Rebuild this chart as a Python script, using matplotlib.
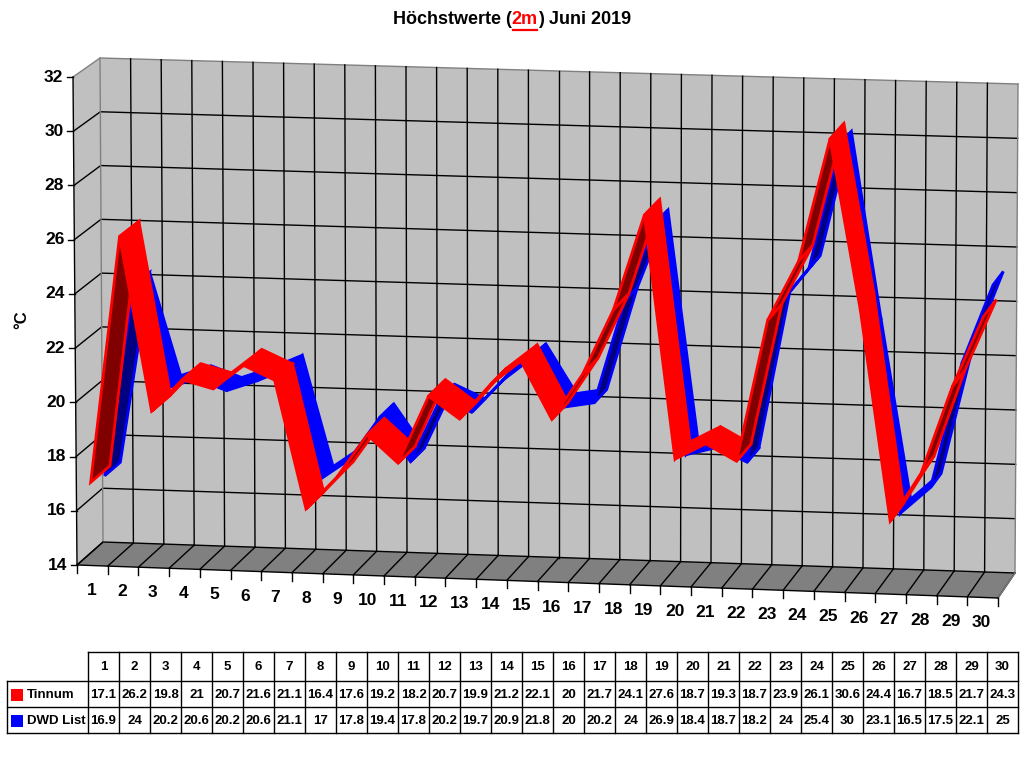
import numpy as np
import matplotlib.pyplot as plt
from matplotlib.patches import Polygon

plt.rcParams['font.family'] = ['Liberation Sans', 'DejaVu Sans']

days = list(range(1, 31))
tinnum = [17.1, 26.2, 19.8, 21, 20.7, 21.6, 21.1, 16.4, 17.6, 19.2, 18.2, 20.7, 19.9, 21.2, 22.1,
          20, 21.7, 24.1, 27.6, 18.7, 19.3, 18.7, 23.9, 26.1, 30.6, 24.4, 16.7, 18.5, 21.7, 24.3]
dwd = [16.9, 24, 20.2, 20.6, 20.2, 20.6, 21.1, 17, 17.8, 19.4, 17.8, 20.2, 19.7, 20.9, 21.8,
       20, 20.2, 24, 26.9, 18.4, 18.7, 18.2, 24, 25.4, 30, 23.1, 16.5, 17.5, 22.1, 25]
series_names = ["Tinnum", "DWD List"]
y_ticks = list(range(14, 33, 2))
y_min, y_max = 14, 32

# corners of the 3d box in pixels (front / back planes)
FBL = np.array([77, 565]); FBR = np.array([998, 598])
FTL = np.array([73, 77]); FTR = np.array([1001, 105])
BBL = np.array([103, 542]); BBR = np.array([1015, 573])
BTL = np.array([100, 58]); BTR = np.array([1018, 84])


def proj(u, v, w):
    t = (v - y_min) / (y_max - y_min)
    front = (1-u)*(1-t)*FBL + u*(1-t)*FBR + (1-u)*t*FTL + u*t*FTR
    back = (1-u)*(1-t)*BBL + u*(1-t)*BBR + (1-u)*t*BTL + u*t*BTR
    return front + w*(back - front)


fig = plt.figure(figsize=(10.24, 7.68), dpi=100)
ax = fig.add_axes([0, 0, 1, 1])
ax.set_xlim(0, 1024)
ax.set_ylim(768, 0)
ax.axis('off')

n = len(days)
wall = '#c0c0c0'
floor = '#808080'

# walls and floor
back = [proj(0, y_min, 1), proj(1, y_min, 1), proj(1, y_max, 1), proj(0, y_max, 1)]
ax.add_patch(Polygon(back, closed=True, fc=wall, ec='none'))
left = [proj(0, y_min, 0), proj(0, y_min, 1), proj(0, y_max, 1), proj(0, y_max, 0)]
ax.add_patch(Polygon(left, closed=True, fc=wall, ec='none'))
flr = [proj(0, y_min, 0), proj(1, y_min, 0), proj(1, y_min, 1), proj(0, y_min, 1)]
ax.add_patch(Polygon(flr, closed=True, fc=floor, ec='none'))

# gridlines
for v in y_ticks:
    c = '#808080' if v == y_max else 'black'
    p = np.array([proj(0, v, 0), proj(0, v, 1), proj(1, v, 1)])
    ax.plot(p[:, 0], p[:, 1], color=c, lw=1)
for k in range(n + 1):
    u = k / n
    c = '#808080' if k in (0, n) else 'black'
    p = np.array([proj(u, y_min, 1), proj(u, y_max, 1)])
    ax.plot(p[:, 0], p[:, 1], color=c, lw=1)
    p = np.array([proj(u, y_min, 0), proj(u, y_min, 1)])
    ax.plot(p[:, 0], p[:, 1], color='black', lw=1)
p = np.array([proj(1, y_min, 0), proj(1, y_min, 1)])
ax.plot(p[:, 0], p[:, 1], color='#808080', lw=1)


def ribbon(vals, w0, w1, col, dark):
    for i in range(len(vals) - 1):
        u1 = (i + 0.5) / n
        u2 = (i + 1.5) / n
        A = proj(u1, vals[i], w0); B = proj(u2, vals[i+1], w0)
        C = proj(u2, vals[i+1], w1); D = proj(u1, vals[i], w1)
        e1 = B - A; e2 = D - A
        cross = e1[0]*e2[1] - e1[1]*e2[0]
        face = col if cross < 0 else dark
        ax.add_patch(Polygon([A, B, C, D], closed=True, fc=face, ec=col,
                             lw=2.0, joinstyle='miter', zorder=3))


ribbon(dwd, 0.5, 1.1, '#0000ff', '#000080')
ribbon(tinnum, -0.04, 0.7, '#ff0000', '#800000')

# axes
p = np.array([proj(0, y_min, 0), proj(0, y_max, 0)])
ax.plot(p[:, 0], p[:, 1], color='black', lw=1, zorder=4)
for v in y_ticks:
    x, y = proj(0, v, 0)
    ax.plot([x - 6, x], [y, y], color='black', lw=1, zorder=4)
    ax.text(x - 10, y, str(v), ha='right', va='center', fontsize=12.5, fontweight='bold')
p = np.array([proj(0, y_min, 0), proj(1, y_min, 0)])
ax.plot(p[:, 0], p[:, 1], color='black', lw=1, zorder=4)
for k in range(n + 1):
    x, y = proj(k / n, y_min, 0)
    ax.plot([x, x], [y, y + 8], color='black', lw=1, zorder=4)
for i, d in enumerate(days):
    x, y = proj((i + 0.5) / n, y_min, 0)
    ax.text(x - 1, y + 25, str(d), ha='center', va='center', fontsize=12.5, fontweight='bold')

ax.text(22, 320, '°C', rotation=90, ha='center', va='center', fontsize=12, fontweight='bold')

# title
renderer = fig.canvas.get_renderer()
parts = [("Höchstwerte (", 'black'), ("2m", '#ff0000'), (") Juni 2019", 'black')]
widths = []
for s, c in parts:
    t = ax.text(0, 0, s, fontsize=13, fontweight='bold')
    widths.append(t.get_window_extent(renderer).width)
    t.remove()
x0 = 512 - sum(widths) / 2
for (s, c), wd in zip(parts, widths):
    ax.text(x0, 20, s, color=c, fontsize=13, fontweight='bold', ha='left', va='center')
    if s == "2m":
        ax.plot([x0 + 1, x0 + wd - 1], [30, 30], color=c, lw=1.6)
    x0 += wd

# data table
col_w = 31
tx0 = 88
rows_y = [652, 681, 707, 733]
tx1 = tx0 + col_w * n
ax.plot([tx0, tx1], [rows_y[0]] * 2, color='black', lw=1)
for y in rows_y[1:]:
    ax.plot([7, tx1], [y, y], color='black', lw=1)
for k in range(n + 1):
    ax.plot([tx0 + k * col_w] * 2, [rows_y[0], rows_y[3]], color='black', lw=1)
ax.plot([7, 7], [rows_y[1], rows_y[3]], color='black', lw=1)

for i, d in enumerate(days):
    cx = tx0 + col_w * i + col_w / 2
    ax.text(cx, (rows_y[0] + rows_y[1]) / 2 + 1, str(d), ha='center', va='center',
            fontsize=9.5, fontweight='bold')
    ax.text(cx, (rows_y[1] + rows_y[2]) / 2 + 1, f"{tinnum[i]:g}", ha='center', va='center',
            fontsize=9.5, fontweight='bold')
    ax.text(cx, (rows_y[2] + rows_y[3]) / 2 + 1, f"{dwd[i]:g}", ha='center', va='center',
            fontsize=9.5, fontweight='bold')

for r, (name, col) in enumerate(zip(series_names, ['#ff0000', '#0000ff'])):
    yc = (rows_y[r + 1] + rows_y[r + 2]) / 2 + 1
    ax.add_patch(Polygon([(11, yc - 6), (23, yc - 6), (23, yc + 6), (11, yc + 6)],
                         closed=True, fc=col, ec='none'))
    ax.text(27, yc, name, ha='left', va='center', fontsize=9.5, fontweight='bold')

fig.savefig('out.png', dpi=100)
